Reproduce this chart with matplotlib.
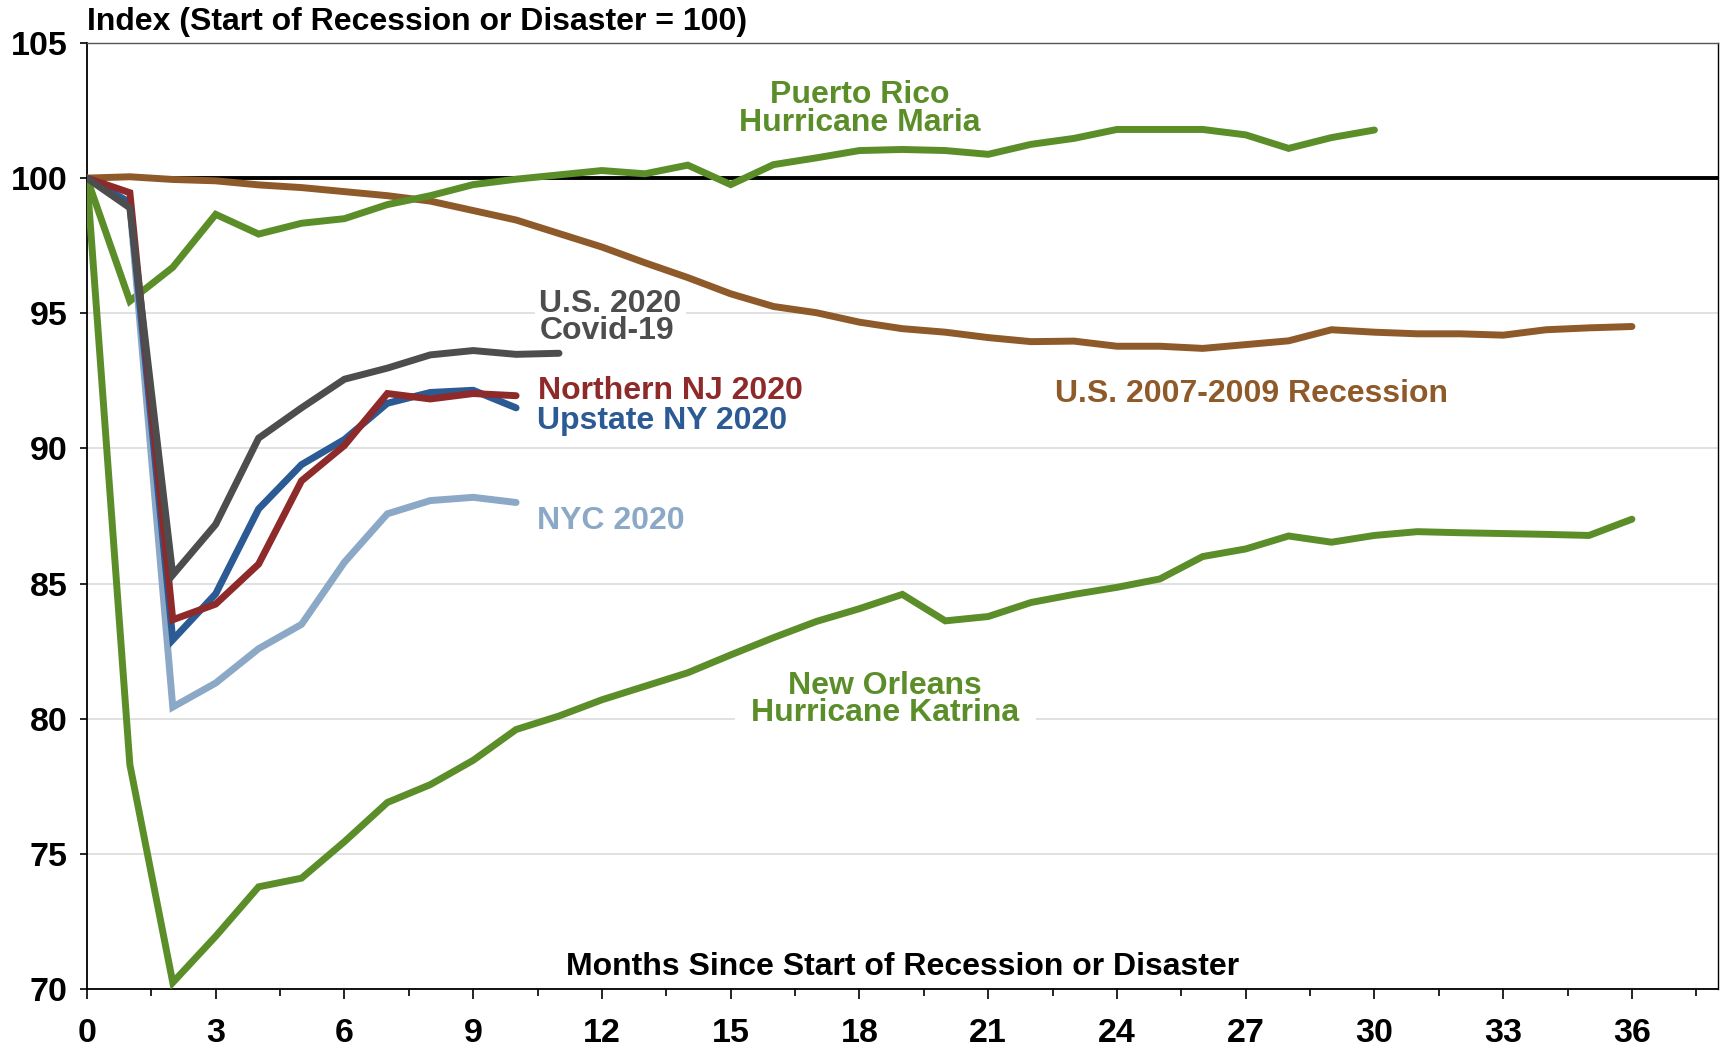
import matplotlib.pyplot as plt
from matplotlib.ticker import MultipleLocator

plt.rcParams['font.family'] = ['Liberation Sans', 'DejaVu Sans']
plt.rcParams['font.weight'] = 'bold'

# months since start
us_0709 = [100, 100.05, 99.95, 99.9, 99.75, 99.65, 99.5, 99.35, 99.15, 98.8, 98.45,
           97.95, 97.45, 96.87, 96.32, 95.72, 95.25, 95.02, 94.67, 94.43, 94.3, 94.1,
           93.95, 93.97, 93.78, 93.78, 93.7, 93.84, 93.98, 94.39, 94.3, 94.24, 94.24,
           94.19, 94.39, 94.46, 94.51]
puerto_rico = [100, 95.45, 96.7, 98.66, 97.93, 98.33, 98.5, 99.02, 99.35, 99.76, 99.96,
               100.12, 100.28, 100.16, 100.48, 99.76, 100.5, 100.75, 101.02, 101.06,
               101.02, 100.88, 101.25, 101.47, 101.8, 101.8, 101.8, 101.6, 101.1, 101.5,
               101.78]
new_orleans = [100, 78.3, 70.24, 71.95, 73.78, 74.1, 75.45, 76.9, 77.56, 78.46, 79.6,
               80.1, 80.7, 81.2, 81.7, 82.36, 83.0, 83.6, 84.07, 84.6, 83.62, 83.78,
               84.3, 84.6, 84.86, 85.17, 86.0, 86.28, 86.76, 86.53, 86.78, 86.92, 86.88,
               86.85, 86.82, 86.78, 87.38]
us_2020 = [100, 98.9, 85.32, 87.19, 90.38, 91.5, 92.56, 92.97, 93.46, 93.62, 93.48, 93.52]
north_nj = [100, 99.46, 83.66, 84.24, 85.72, 88.8, 90.11, 92.03, 91.83, 92.03, 91.95]
upstate_ny = [100, 99.1, 82.92, 84.62, 87.76, 89.4, 90.33, 91.67, 92.07, 92.15, 91.5]
nyc = [100, 99.0, 80.43, 81.32, 82.59, 83.49, 85.79, 87.58, 88.07, 88.19, 88.0]

green = '#5B8E29'
brown = '#8E5A2A'
gray = '#4D4D4D'
red = '#8E2A2A'
blue = '#2B5A94'
light = '#8BA8C6'

fig = plt.figure(figsize=(17.25, 10.48), dpi=100)
ax = fig.add_axes([0.0504, 0.0563, 0.9454, 0.9027])

ax.axhline(100, color='black', lw=2.8, zorder=2)
series = [(us_0709, brown), (puerto_rico, green), (new_orleans, green),
          (nyc, light), (upstate_ny, blue), (north_nj, red), (us_2020, gray)]
for vals, col in series:
    ax.plot(range(len(vals)), vals, color=col, lw=5, zorder=3,
            solid_capstyle='round', solid_joinstyle='miter')

ax.set_xlim(0, 38)
ax.set_ylim(70, 105)
ax.xaxis.set_major_locator(MultipleLocator(3))
ax.xaxis.set_minor_locator(MultipleLocator(1.5))
ax.yaxis.set_major_locator(MultipleLocator(5))
ax.tick_params(axis='x', which='major', length=7, width=1.2, pad=14, labelsize=24.5)
ax.tick_params(axis='x', which='minor', length=5, width=1.2)
ax.tick_params(axis='y', length=5, width=1.2, pad=9, labelsize=24.5)
ax.grid(axis='y', color='#DCDCDC', lw=1.2, zorder=0)
ax.set_axisbelow(True)
ax.spines['left'].set_linewidth(1.3)
ax.spines['bottom'].set_linewidth(1.3)
ax.spines['top'].set_color('#555555')
ax.spines['top'].set_linewidth(1.0)
ax.spines['right'].set_linewidth(1.0)

fs = 23
ls = 0.88
ax.text(18, 101.76, 'Puerto Rico\nHurricane Maria', color=green, fontsize=fs, ha='center',
        va='baseline', multialignment='center', linespacing=ls, zorder=2.5)
ax.text(18.6, 79.9, 'New Orleans\nHurricane Katrina', color=green, fontsize=fs, ha='center',
        va='baseline', multialignment='center', linespacing=ls, zorder=2.5,
        bbox=dict(facecolor='white', edgecolor='none', pad=12))
ax.text(10.54, 94.04, 'U.S. 2020\nCovid-19', color=gray, fontsize=fs, ha='left',
        va='baseline', linespacing=ls, zorder=2.5,
        bbox=dict(facecolor='white', edgecolor='none', pad=3))
ax.text(10.52, 91.82, 'Northern NJ 2020', color=red, fontsize=fs, ha='left', va='baseline', zorder=2.5)
ax.text(10.48, 90.72, 'Upstate NY 2020', color=blue, fontsize=fs, ha='left', va='baseline', zorder=2.5)
ax.text(10.48, 87.03, 'NYC 2020', color=light, fontsize=fs, ha='left', va='baseline', zorder=2.5)
ax.text(22.56, 91.7, 'U.S. 2007-2009 Recession', color=brown, fontsize=fs, ha='left', va='baseline', zorder=2.5)

ax.text(19.0, 70.82, 'Months Since Start of Recession or Disaster', color='black', fontsize=23,
        ha='center', va='center')
ax.text(0, 1.006, 'Index (Start of Recession or Disaster = 100)', transform=ax.transAxes,
        color='black', fontsize=23, ha='left', va='bottom')

fig.savefig('out.png', dpi=100)
